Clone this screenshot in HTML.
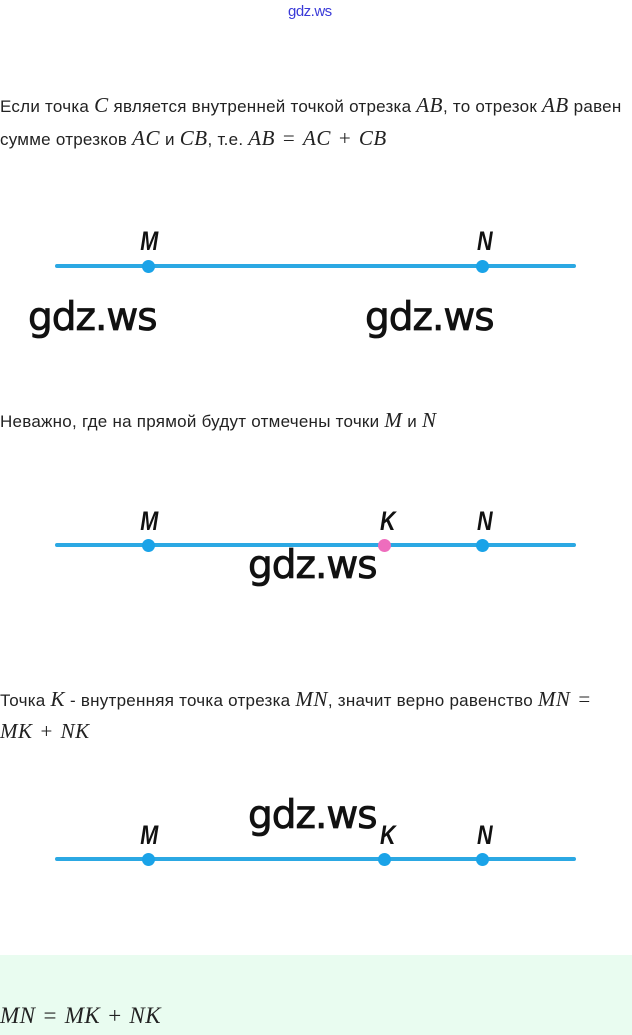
<!DOCTYPE html>
<html><head><meta charset="utf-8"><style>
body{margin:0;width:632px;height:1035px;background:#fff;position:relative;overflow:hidden;font-family:"Liberation Sans","DejaVu Sans",sans-serif;color:#222}
.t{position:absolute;left:0;font-size:17px;white-space:nowrap;letter-spacing:0.25px}
.m{font-family:"Liberation Serif",serif;font-style:italic;font-size:21px;letter-spacing:0.5px}
.r{font-family:"Liberation Serif",serif;font-size:21px;margin:0 3px}
.w{position:absolute;font-family:"DejaVu Sans","Liberation Sans",sans-serif;font-size:39px;font-weight:500;color:#111;letter-spacing:-1px;-webkit-text-stroke:0.8px #111}
.line{position:absolute;left:55px;width:521px;height:4px;background:#2ba8e3;border-radius:2px}
.d{position:absolute;width:13px;height:13px;border-radius:50%;background:#1aa3e8}
.l{position:absolute;font-family:"Liberation Sans",sans-serif;font-weight:bold;font-style:italic;font-size:27px;transform:scaleX(0.8);color:#111}
</style></head><body>
<div style="position:absolute;left:288px;top:3px;font-size:15px;color:#3a3ad8;letter-spacing:-0.5px">gdz.ws</div>
<div class="t" style="top:93px">Если точка <span class="m">C</span> является внутренней точкой отрезка <span class="m">AB</span>, то отрезок <span class="m">AB</span> равен</div>
<div class="t" style="top:126px">сумме отрезков <span class="m">AC</span> и <span class="m">CB</span>, т.е. <span class="m">AB</span> <span class="r">=</span> <span class="m">AC</span> <span class="r">+</span> <span class="m">CB</span></div>

<div class="line" style="top:264px"></div>
<div class="d" style="left:142px;top:260px"></div><div class="d" style="left:476px;top:260px"></div>
<div class="l" style="left:138px;top:226px">M</div><div class="l" style="left:475px;top:226px">N</div>
<div class="w" style="left:28px;top:295px">gdz.ws</div><div class="w" style="left:365px;top:295px">gdz.ws</div>

<div class="t" style="top:408px">Неважно, где на прямой будут отмечены точки <span class="m">M</span> и <span class="m">N</span></div>
<div class="line" style="top:543px"></div>
<div class="d" style="left:142px;top:539px"></div><div class="d" style="left:378px;top:539px;background:#ee6dbd"></div><div class="d" style="left:476px;top:539px"></div>
<div class="l" style="left:138px;top:506px">M</div><div class="l" style="left:378px;top:506px">K</div><div class="l" style="left:475px;top:506px">N</div>
<div class="w" style="left:248px;top:543px">gdz.ws</div>

<div class="t" style="top:687px">Точка <span class="m">K</span> - внутренняя точка отрезка <span class="m">MN</span>, значит верно равенство <span class="m">MN</span> <span class="r">=</span></div>
<div class="t" style="top:719px"><span class="m">MK</span> <span class="r">+</span> <span class="m">NK</span></div>
<div class="w" style="left:248px;top:793px">gdz.ws</div>
<div class="line" style="top:857px"></div>
<div class="d" style="left:142px;top:853px"></div><div class="d" style="left:378px;top:853px"></div><div class="d" style="left:476px;top:853px"></div>
<div class="l" style="left:138px;top:820px">M</div><div class="l" style="left:378px;top:820px">K</div><div class="l" style="left:475px;top:820px">N</div>

<div style="position:absolute;left:0;top:955px;width:632px;height:80px;background:#e9fcf0"></div>
<div class="t" style="top:1003px"><span class="m" style="font-size:23px">MN</span> <span class="r" style="font-size:23px">=</span> <span class="m" style="font-size:23px">MK</span> <span class="r" style="font-size:23px">+</span> <span class="m" style="font-size:23px">NK</span></div>
</body></html>
